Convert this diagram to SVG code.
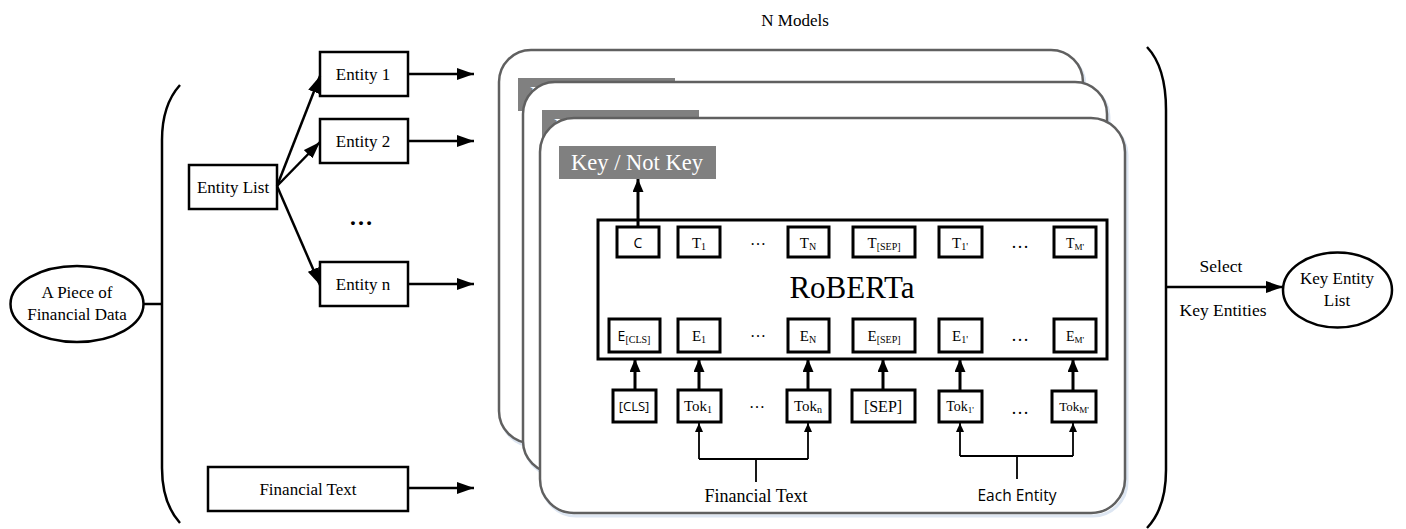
<svg xmlns="http://www.w3.org/2000/svg" width="1406" height="529" viewBox="0 0 1406 529">
<style>
.serif{font-family:"Liberation Serif","Times New Roman",serif;fill:#000}
.sans{font-family:"Open Sans","Liberation Sans",sans-serif;fill:#000}
.box{fill:#fff;stroke:#000;stroke-width:2.5}
.tbox{fill:#fff;stroke:#000;stroke-width:3}
.panel{fill:#fff;stroke:#606060;stroke-width:2.5}
.shadow{fill:none;stroke:#dde6f2;stroke-width:3}
.tab{fill:#808080}
.tabtxt{font-family:"Liberation Serif","Times New Roman",serif;font-size:22.5px;fill:#fff}
.ln{fill:none;stroke:#000;stroke-width:2.5}
.lnt{fill:none;stroke:#000;stroke-width:3}
.thin{fill:none;stroke:#000;stroke-width:1.8}
.c{text-anchor:middle}
</style>
<defs>
<marker id="ah" markerWidth="17" markerHeight="12" refX="17" refY="6" orient="auto" markerUnits="userSpaceOnUse"><path d="M0,0 L17,6 L0,12 z" fill="#000"/></marker>
<marker id="ahm" markerWidth="13" markerHeight="11" refX="13" refY="5.5" orient="auto" markerUnits="userSpaceOnUse"><path d="M0,0 L13,5.5 L0,11 z" fill="#000"/></marker>
<marker id="ahs" markerWidth="9" markerHeight="8" refX="9" refY="4" orient="auto" markerUnits="userSpaceOnUse"><path d="M0,0 L9,4 L0,8 z" fill="#000"/></marker>
</defs>

<text class="serif c" x="795" y="26" font-size="17">N Models</text>

<!-- Brackets -->
<path class="ln" d="M180,85 Q162,105 162,140 L162,468 Q162,503 180,523" stroke-width="2"/>
<path class="ln" d="M1147,47 Q1166,67 1166,110 L1166,470 Q1166,508 1147,528" stroke-width="2"/>

<!-- Left side nodes -->
<g id="piece">
<ellipse cx="77" cy="304" rx="66.5" ry="38" fill="#fff" stroke="#000" stroke-width="2.5"/>
<text class="serif c" x="77" y="298" font-size="17">A Piece of</text>
<text class="serif c" x="77" y="320" font-size="17">Financial Data</text>
</g>
<g id="entitylist">
<rect class="box" x="189" y="165" width="88" height="44"/>
<text class="serif c" x="233" y="193" font-size="17">Entity List</text>
</g>
<g id="entity1">
<rect class="box" x="320" y="52" width="88" height="44"/>
<text class="serif c" x="363" y="80" font-size="17">Entity 1</text>
</g>
<g id="entity2">
<rect class="box" x="320" y="119" width="88" height="44"/>
<text class="serif c" x="363" y="147" font-size="17">Entity 2</text>
</g>
<text class="serif c" x="361" y="225" font-size="24" font-weight="bold">…</text>
<g id="entityn">
<rect class="box" x="320" y="262" width="88" height="44"/>
<text class="serif c" x="363" y="290" font-size="17">Entity n</text>
</g>
<g id="fintext">
<rect class="box" x="208" y="467" width="200" height="44"/>
<text class="serif c" x="308" y="495" font-size="17">Financial Text</text>
</g>

<!-- Panels -->
<g id="panel1">
<rect class="shadow" x="501" y="53" width="584" height="393" rx="32"/>
<rect class="panel" x="499" y="50" width="584" height="393" rx="32"/>
<rect class="tab" x="518" y="78" width="157" height="33"/>
<text class="tabtxt c" x="596" y="102">Key / Not Key</text>
</g>
<g id="panel2">
<rect class="shadow" x="525" y="85" width="584" height="391" rx="32"/>
<rect class="panel" x="523" y="82" width="584" height="391" rx="32"/>
<rect class="tab" x="542" y="110" width="157" height="33"/>
<text class="tabtxt c" x="620" y="134">Key / Not Key</text>
</g>
<g id="panel3">
<rect class="shadow" x="542" y="121" width="585" height="395" rx="34"/>
<rect class="panel" x="540" y="118" width="585" height="395" rx="34"/>
<rect class="tab" x="559" y="146" width="157" height="33"/>
<text class="tabtxt c" x="637" y="170">Key / Not Key</text>
</g>

<g id="roberta">
<rect fill="none" stroke="#000" stroke-width="3" x="598" y="220" width="509" height="139"/>
<text class="serif c" x="852" y="298" font-size="31">RoBERTa</text>
</g>

<!-- Top row -->
<g id="tC"><rect class="tbox" x="617" y="227" width="42" height="30"/><text class="sans c" x="638" y="248" font-size="14">C</text></g>
<g id="tT1"><rect class="tbox" x="678" y="227" width="42" height="30"/><text class="serif c" x="699" y="248" font-size="15">T<tspan font-size="10" dy="2">1</tspan></text></g>
<text class="serif c" x="758" y="245" font-size="16">…</text>
<g id="tTN"><rect class="tbox" x="788" y="227" width="41" height="30"/><text class="serif c" x="808" y="248" font-size="15">T<tspan font-size="10" dy="2">N</tspan></text></g>
<g id="tTSEP"><rect class="tbox" x="853" y="227" width="62" height="30"/><text class="serif c" x="884" y="248" font-size="15">T<tspan font-size="10" dy="2">[SEP]</tspan></text></g>
<g id="tT1p"><rect class="tbox" x="939" y="227" width="43" height="30"/><text class="serif c" x="960" y="248" font-size="15">T<tspan font-size="10" dy="2">1'</tspan></text></g>
<text class="serif c" x="1020" y="248" font-size="18">…</text>
<g id="tTM"><rect class="tbox" x="1054" y="227" width="42" height="30"/><text class="serif c" x="1075" y="248" font-size="14">T<tspan font-size="9" dy="2">M'</tspan></text></g>

<!-- Bottom row -->
<g id="eCLS"><rect class="tbox" x="609" y="319" width="51" height="33"/><text class="c" x="634" y="341" font-size="14"><tspan class="sans">E</tspan><tspan class="serif" font-size="10" dy="2">[CLS]</tspan></text></g>
<g id="eE1"><rect class="tbox" x="678" y="319" width="42" height="33"/><text class="serif c" x="699" y="341" font-size="15">E<tspan font-size="10" dy="2">1</tspan></text></g>
<text class="serif c" x="758" y="337" font-size="16">…</text>
<g id="eEN"><rect class="tbox" x="788" y="319" width="41" height="33"/><text class="serif c" x="808" y="341" font-size="15">E<tspan font-size="10" dy="2">N</tspan></text></g>
<g id="eESEP"><rect class="tbox" x="853" y="319" width="62" height="33"/><text class="serif c" x="884" y="341" font-size="15">E<tspan font-size="10" dy="2">[SEP]</tspan></text></g>
<g id="eE1p"><rect class="tbox" x="939" y="319" width="43" height="33"/><text class="serif c" x="960" y="341" font-size="15">E<tspan font-size="10" dy="2">1'</tspan></text></g>
<text class="serif c" x="1020" y="341" font-size="18">…</text>
<g id="eEM"><rect class="tbox" x="1054" y="319" width="42" height="33"/><text class="serif c" x="1075" y="341" font-size="14">E<tspan font-size="9" dy="2">M'</tspan></text></g>

<!-- Token row -->
<g id="kCLS"><rect class="tbox" x="613" y="390" width="43" height="32"/><text class="sans c" x="634" y="411" font-size="13">[CLS]</text></g>
<g id="kTok1"><rect class="tbox" x="678" y="390" width="43" height="32"/><text class="serif c" x="698" y="411" font-size="15">Tok<tspan font-size="10" dy="2">1</tspan></text></g>
<text class="serif c" x="757" y="408" font-size="16">…</text>
<g id="kTokn"><rect class="tbox" x="787" y="390" width="43" height="32"/><text class="serif c" x="808" y="411" font-size="15">Tok<tspan font-size="10" dy="2">n</tspan></text></g>
<g id="kSEP"><rect class="tbox" x="852" y="390" width="63" height="32"/><text class="serif c" x="883" y="412" font-size="16">[SEP]</text></g>
<g id="kTok1p"><rect class="tbox" x="939" y="391" width="43" height="31"/><text class="serif c" x="960" y="411" font-size="14">Tok<tspan font-size="9" dy="2">1'</tspan></text></g>
<text class="serif c" x="1020" y="414" font-size="18">…</text>
<g id="kTokM"><rect class="tbox" x="1052" y="391" width="44" height="31"/><text class="serif c" x="1074" y="411" font-size="13">Tok<tspan font-size="9" dy="2">M'</tspan></text></g>

<text class="serif c" x="756" y="502" font-size="18">Financial Text</text>
<text class="sans c" x="1017" y="501" font-size="15.5">Each Entity</text>

<!-- Right node -->
<g id="keylist">
<ellipse cx="1337.5" cy="290" rx="54.5" ry="37.5" fill="#fff" stroke="#000" stroke-width="2.5"/>
<text class="serif c" x="1337" y="284" font-size="17">Key Entity</text>
<text class="serif c" x="1337" y="306" font-size="17">List</text>
</g>
<text class="serif c" x="1221" y="272" font-size="17.5">Select</text>
<text class="serif c" x="1223" y="316" font-size="17.5">Key Entities</text>

<!-- Connectors -->
<g id="connectors">
<line class="ln" x1="143" y1="304" x2="162" y2="304"/>
<line class="ln" x1="277" y1="186" x2="320" y2="76" marker-end="url(#ah)"/>
<line class="ln" x1="277" y1="186" x2="320" y2="142" marker-end="url(#ah)"/>
<line class="ln" x1="277" y1="186" x2="320" y2="285" marker-end="url(#ah)"/>
<line class="ln" x1="408" y1="74" x2="474" y2="74" marker-end="url(#ah)"/>
<line class="ln" x1="408" y1="141" x2="474" y2="141" marker-end="url(#ah)"/>
<line class="ln" x1="408" y1="284" x2="474" y2="284" marker-end="url(#ah)"/>
<line class="ln" x1="408" y1="488" x2="474" y2="488" marker-end="url(#ah)"/>
<line class="ln" x1="1166" y1="287" x2="1283" y2="287" marker-end="url(#ah)"/>
<line class="lnt" x1="638" y1="227" x2="638" y2="179" marker-end="url(#ahm)"/>
<line class="lnt" x1="635" y1="390" x2="635" y2="359" marker-end="url(#ahm)"/>
<line class="lnt" x1="699" y1="390" x2="699" y2="359" marker-end="url(#ahm)"/>
<line class="lnt" x1="808" y1="390" x2="808" y2="359" marker-end="url(#ahm)"/>
<line class="lnt" x1="883" y1="390" x2="883" y2="359" marker-end="url(#ahm)"/>
<line class="lnt" x1="960" y1="391" x2="960" y2="359" marker-end="url(#ahm)"/>
<line class="lnt" x1="1073" y1="391" x2="1073" y2="359" marker-end="url(#ahm)"/>
<path class="thin" d="M699,459 L699,423" marker-end="url(#ahs)"/>
<path class="thin" d="M808,459 L808,423" marker-end="url(#ahs)"/>
<path class="thin" d="M699,459 L808,459 M756,459 L756,482"/>
<path class="thin" d="M960,456 L960,423" marker-end="url(#ahs)"/>
<path class="thin" d="M1073,456 L1073,423" marker-end="url(#ahs)"/>
<path class="thin" d="M960,456 L1073,456 M1017,456 L1017,479"/>
</g>
</svg>
